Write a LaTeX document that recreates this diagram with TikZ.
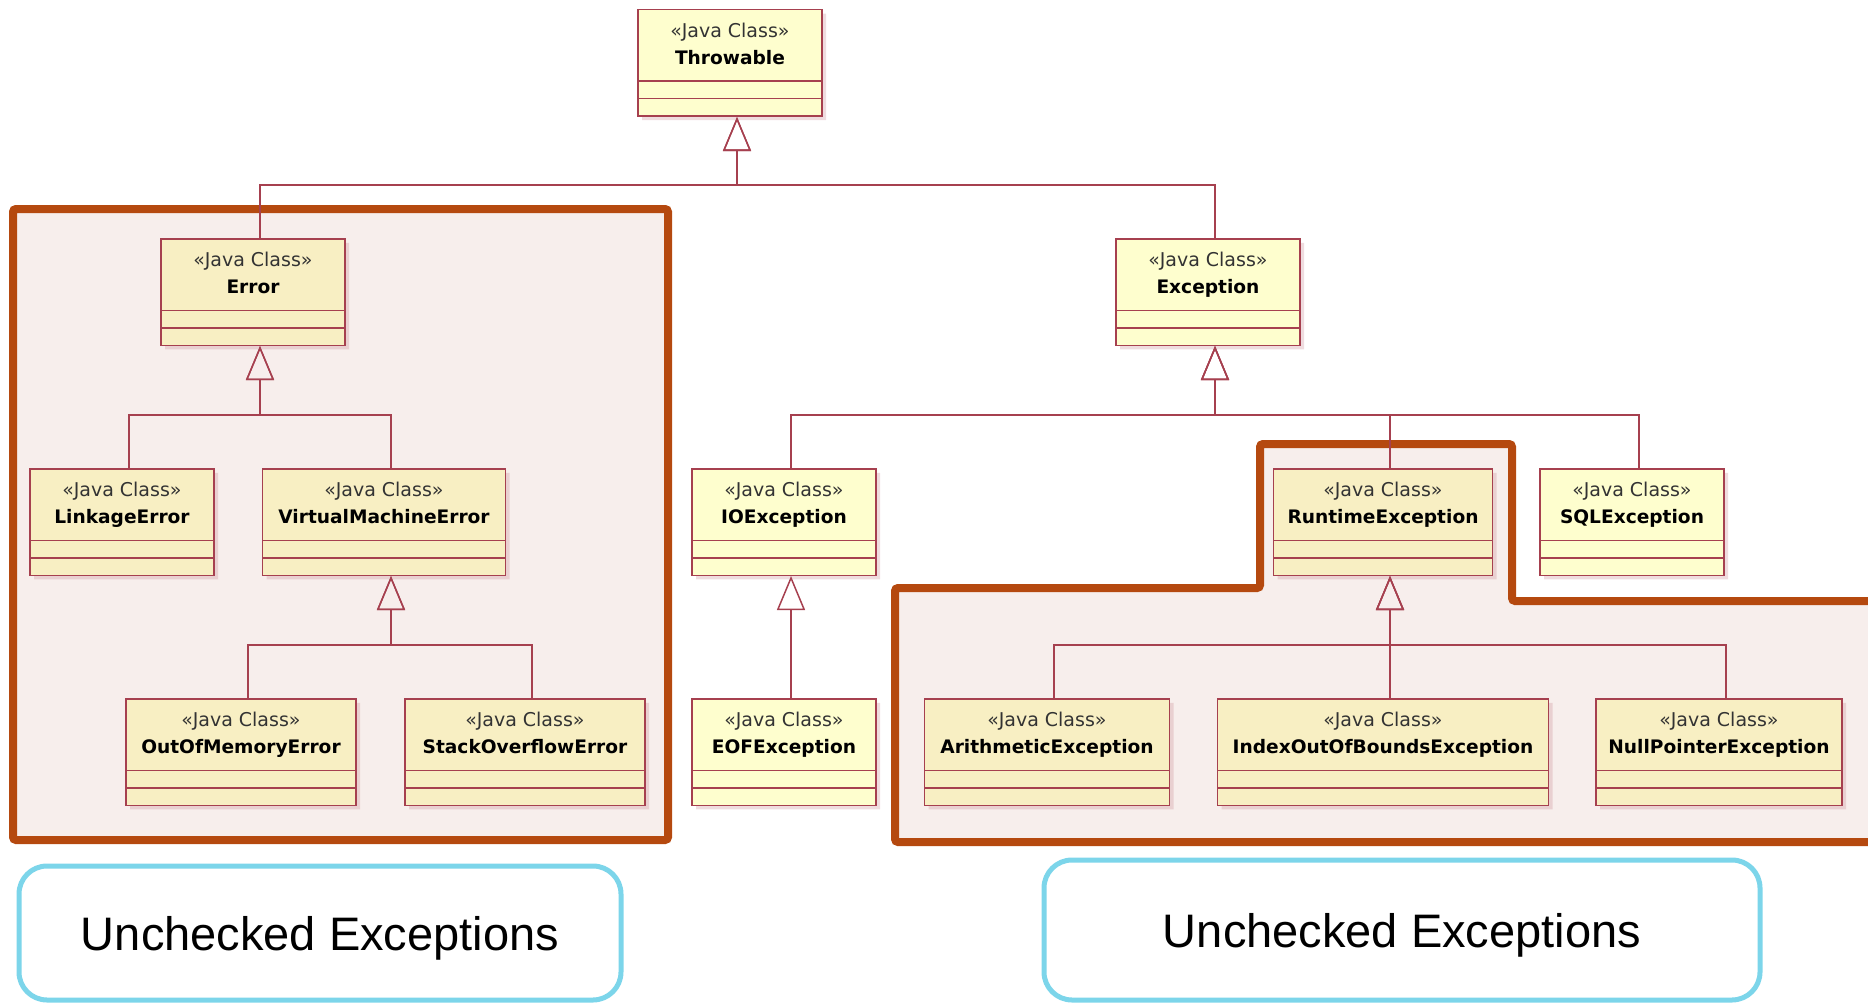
\documentclass[tikz,border=0pt]{standalone}
\usepackage{fontspec}
\newfontfamily\umlfont{DejaVu Sans}
\newfontfamily\notefont{Liberation Sans}
\usetikzlibrary{arrows.meta, shapes.multipart, shadows}
\definecolor{umlred}{HTML}{A6404F}
\definecolor{classfill}{HTML}{FEFECE}
\definecolor{classfillin}{HTML}{F8EFC3}
\definecolor{framecol}{HTML}{B5490F}
\definecolor{framefill}{HTML}{F7EEEC}
\definecolor{notecol}{HTML}{7CD5EA}
\newcommand{\javaclass}{{\color{black!80}\fontsize{9.5}{13.5}\selectfont\strut«Java Class»}}
\tikzset{>={Triangle[open,length=17pt,width=14pt]},
  umlclass/.style={rectangle split, rectangle split parts=3,
    draw=umlred, line width=0.75pt, fill=classfill, inner ysep=4pt,
    align=center, minimum width=92pt,
    font=\umlfont\fontsize{9.3}{13.5}\selectfont,
    drop shadow={shadow xshift=2pt, shadow yshift=-2pt, opacity=0.3, fill=umlred!60}},
  inframe/.style={fill=classfillin},
  inherit/.style={draw=umlred, line width=0.75pt, ->},
  framebox/.style={draw=framecol, line width=4pt, fill=framefill, rounded corners=1.5pt},
  notebox/.style={draw=notecol, line width=2.5pt, rounded corners=14pt, fill=white,
    text depth=0pt, font=\notefont\fontsize{23.5}{28}\selectfont}}

\begin{document}
\begin{tikzpicture}[x=0.5pt, y=-0.5pt]
    \clip (0,0) rectangle (1868,1006);
    % the two groups of unchecked exceptions
    \draw [framebox] (13,209) rectangle (668,840);
    \draw [framebox] (895,588) -- (1260,588) -- (1260,444) -- (1512,444) -- (1512,601) -- (1880,601) -- (1880,842) -- (895,842) -- cycle;

    \node [umlclass] (thr) at (730,63) {\javaclass\\\strut\textbf{Throwable}\nodepart{two}\rule{1pt}{0pt}\nodepart{three}\rule{1pt}{0pt}};
    \node [umlclass, inframe] (err) at (253,292) {\javaclass\\\strut\textbf{Error}\nodepart{two}\rule{1pt}{0pt}\nodepart{three}\rule{1pt}{0pt}};
    \node [umlclass] (exc) at (1208,292) {\javaclass\\\strut\textbf{Exception}\nodepart{two}\rule{1pt}{0pt}\nodepart{three}\rule{1pt}{0pt}};
    \node [umlclass, inframe] (link) at (122,522) {\javaclass\\\strut\textbf{LinkageError}\nodepart{two}\rule{1pt}{0pt}\nodepart{three}\rule{1pt}{0pt}};
    \node [umlclass, inframe, minimum width=121.5pt] (vme) at (384,522) {\javaclass\\\strut\textbf{VirtualMachineError}\nodepart{two}\rule{1pt}{0pt}\nodepart{three}\rule{1pt}{0pt}};
    \node [umlclass] (ioe) at (784,522) {\javaclass\\\strut\textbf{IOException}\nodepart{two}\rule{1pt}{0pt}\nodepart{three}\rule{1pt}{0pt}};
    \node [umlclass, inframe, minimum width=109.5pt] (rte) at (1383,522) {\javaclass\\\strut\textbf{RuntimeException}\nodepart{two}\rule{1pt}{0pt}\nodepart{three}\rule{1pt}{0pt}};
    \node [umlclass] (sql) at (1632,522) {\javaclass\\\strut\textbf{SQLException}\nodepart{two}\rule{1pt}{0pt}\nodepart{three}\rule{1pt}{0pt}};
    \node [umlclass, inframe, minimum width=115pt] (oom) at (241,752) {\javaclass\\\strut\textbf{OutOfMemoryError}\nodepart{two}\rule{1pt}{0pt}\nodepart{three}\rule{1pt}{0pt}};
    \node [umlclass, inframe, minimum width=120pt] (soe) at (525,752) {\javaclass\\\strut\textbf{StackOverflowError}\nodepart{two}\rule{1pt}{0pt}\nodepart{three}\rule{1pt}{0pt}};
    \node [umlclass] (eof) at (784,752) {\javaclass\\\strut\textbf{EOFException}\nodepart{two}\rule{1pt}{0pt}\nodepart{three}\rule{1pt}{0pt}};
    \node [umlclass, inframe, minimum width=122.5pt] (ari) at (1047,752) {\javaclass\\\strut\textbf{ArithmeticException}\nodepart{two}\rule{1pt}{0pt}\nodepart{three}\rule{1pt}{0pt}};
    \node [umlclass, inframe, minimum width=165.5pt] (ioob) at (1383,752) {\javaclass\\\strut\textbf{IndexOutOfBoundsException}\nodepart{two}\rule{1pt}{0pt}\nodepart{three}\rule{1pt}{0pt}};
    \node [umlclass, inframe, minimum width=123pt] (npe) at (1719,752) {\javaclass\\\strut\textbf{NullPointerException}\nodepart{two}\rule{1pt}{0pt}\nodepart{three}\rule{1pt}{0pt}};

    % inheritance
    \draw [inherit] ([xshift=3.5pt]err.north) -- ++(0,-53) -| ([xshift=3.5pt]thr.south);
    \draw [inherit] ([xshift=3.5pt]exc.north) -- ++(0,-53) -| ([xshift=3.5pt]thr.south);
    \draw [inherit] ([xshift=3.5pt]link.north) -- ++(0,-53) -| ([xshift=3.5pt]err.south);
    \draw [inherit] ([xshift=3.5pt]vme.north) -- ++(0,-53) -| ([xshift=3.5pt]err.south);
    \draw [inherit] ([xshift=3.5pt]oom.north) -- ++(0,-53) -| ([xshift=3.5pt]vme.south);
    \draw [inherit] ([xshift=3.5pt]soe.north) -- ++(0,-53) -| ([xshift=3.5pt]vme.south);
    \draw [inherit] ([xshift=3.5pt]ioe.north) -- ++(0,-53) -| ([xshift=3.5pt]exc.south);
    \draw [inherit] ([xshift=3.5pt]rte.north) -- ++(0,-53) -| ([xshift=3.5pt]exc.south);
    \draw [inherit] ([xshift=3.5pt]sql.north) -- ++(0,-53) -| ([xshift=3.5pt]exc.south);
    \draw [inherit] ([xshift=3.5pt]eof.north) -- ([xshift=3.5pt]ioe.south);
    \draw [inherit] ([xshift=3.5pt]ari.north) -- ++(0,-53) -| ([xshift=3.5pt]rte.south);
    \draw [inherit] ([xshift=3.5pt]ioob.north) -- ++(0,-53) -| ([xshift=3.5pt]rte.south);
    \draw [inherit] ([xshift=3.5pt]npe.north) -- ++(0,-53) -| ([xshift=3.5pt]rte.south);

    \node [notebox, minimum width=301pt, minimum height=67pt] (lnote) at (320,933) {Unchecked Exceptions};
    \node [notebox, minimum width=358pt, minimum height=70pt] (rnote) at (1402,930) {Unchecked Exceptions};
\end{tikzpicture}
\end{document}
